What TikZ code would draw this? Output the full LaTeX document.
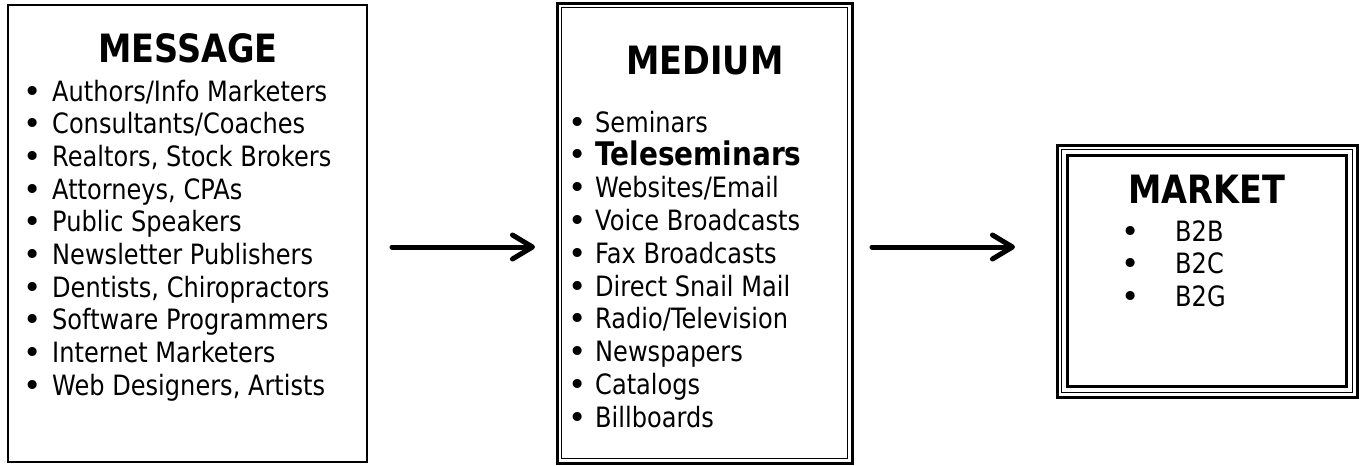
\documentclass[tikz,border=0pt]{standalone}
\usepackage{fontspec}
\setmainfont{DejaVu Sans}[FakeStretch=0.86]
\newfontfamily\dotfont{DejaVu Sans}
\usetikzlibrary{arrows.meta}
\tikzset{
	boxtitle/.style={font=\fontsize{39}{39}\selectfont\bfseries, inner sep=0},
	entry/.style={anchor=base west, inner sep=0, font=\fontsize{28}{28}\selectfont},
	dot/.style={anchor=base, inner sep=0, yshift=-1pt, font=\dotfont\fontsize{31}{31}\selectfont},
	flow/.style={line width=5pt, line cap=round, -{Straight Barb[length=20pt,width=24pt,round]}}
}
\begin{document}
\begin{tikzpicture}[x=1pt,y=-1pt]
			%%%%% START %%%%%
			\useasboundingbox (0,0) rectangle (1361,466);
			
			% message box
			\node[draw, line width=2pt, minimum width=359pt, minimum height=457pt] (message) at (187.5,233.5) {};
			\node[boxtitle] (messagetitle) at (188,48) {MESSAGE};
			\foreach \txt [count=\i from 0] in {Authors/Info Marketers, Consultants/Coaches, {Realtors, Stock Brokers}, {Attorneys, CPAs}, Public Speakers, Newsletter Publishers, {Dentists, Chiropractors}, Software Programmers, Internet Marketers, {Web Designers, Artists}}{
				\node[dot] (msgdot\i) at (33, {101+32.7*\i}) {•};
				\node[entry] (msg\i) at (52, {101+32.7*\i}) {\txt};
			}
			
			% medium box
			\node[draw, line width=3pt, minimum width=295pt, minimum height=460pt] (medium) at (704.5,233) {};
			\draw[line width=1.5pt] ([shift={(6,6)}]medium.north west) rectangle ([shift={(-6,-6)}]medium.south east);
			\node[boxtitle] (mediumtitle) at (705,61) {MEDIUM};
			\foreach \txt [count=\i from 0] in {Seminars, {}, Websites/Email, Voice Broadcasts, Fax Broadcasts, Direct Snail Mail, Radio/Television, Newspapers, Catalogs, Billboards}{
				\node[dot] (meddot\i) at (578, {132+32.8*\i}) {•};
				\node[entry] (med\i) at (595, {132+32.8*\i}) {\txt};
			}
			\node[entry, font=\fontsize{32.5}{32.5}\selectfont\bfseries] (medbold) at (595,165.5) {Teleseminars};
			
			% market box
			\node[draw, line width=3pt, minimum width=300pt, minimum height=252pt] (market) at (1207,271) {};
			\draw[line width=1.5pt] ([shift={(6,6)}]market.north west) rectangle ([shift={(-6,-6)}]market.south east);
			\draw[line width=2.5pt] ([shift={(12,12)}]market.north west) rectangle ([shift={(-12,-12)}]market.south east);
			\node[boxtitle] (markettitle) at (1207,189) {MARKET};
			\foreach \txt [count=\i from 0] in {B2B, B2C, B2G}{
				\node[dot] (mktdot\i) at (1131, {241+32.5*\i}) {•};
				\node[entry] (mkt\i) at (1175, {241+32.5*\i}) {\txt};
			}
			
			% arrows
			\coordinate (flowAstart) at (392,247);
			\coordinate (flowAend) at (535,247);
			\coordinate (flowBstart) at (872,247);
			\coordinate (flowBend) at (1015,247);
			\draw[flow] (flowAstart) -- (flowAend);
			\draw[flow] (flowBstart) -- (flowBend);
			
			%%%%% END %%%%%
\end{tikzpicture}
\end{document}
